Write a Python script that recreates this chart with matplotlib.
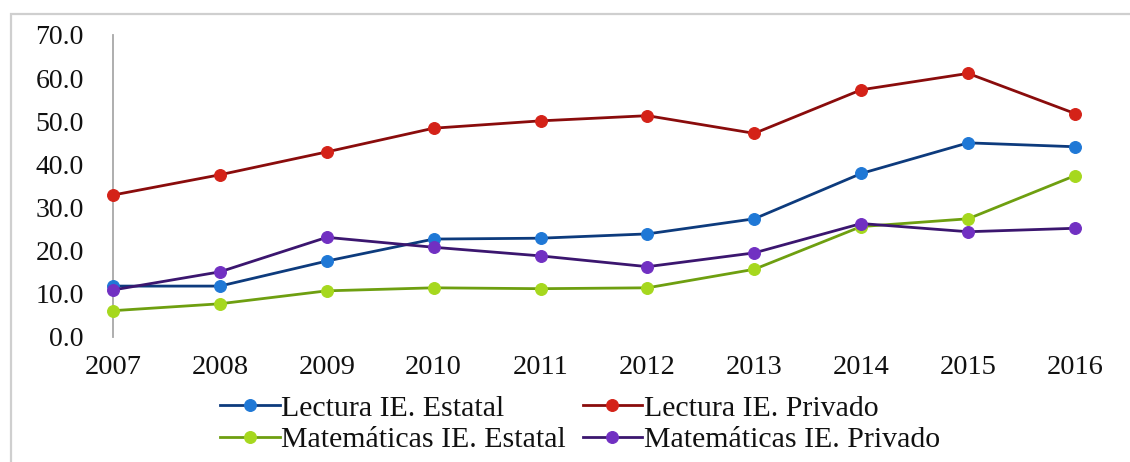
import matplotlib
matplotlib.use("Agg")
import matplotlib.pyplot as plt
from matplotlib.patches import Rectangle

years = [2007, 2008, 2009, 2010, 2011, 2012, 2013, 2014, 2015, 2016]
lectura_estatal = [11.8, 11.8, 17.6, 22.7, 22.9, 23.9, 27.4, 37.9, 45.0, 44.1]
lectura_privado = [32.9, 37.6, 42.9, 48.4, 50.1, 51.3, 47.2, 57.3, 61.1, 51.8]
mate_estatal = [6.1, 7.7, 10.7, 11.4, 11.2, 11.4, 15.7, 25.6, 27.4, 37.4]
mate_privado = [10.9, 15.1, 23.1, 20.8, 18.8, 16.3, 19.5, 26.3, 24.4, 25.2]
labels = ["Lectura IE. Estatal", "Lectura IE. Privado",
          "Matemáticas IE. Estatal", "Matemáticas IE. Privado"]
yticks = [0, 10, 20, 30, 40, 50, 60, 70]

plt.rcParams['font.family'] = ['Liberation Serif', 'DejaVu Serif']

W, H = 1130, 462
fig = plt.figure(figsize=(W / 100, H / 100), dpi=100)
fig.patch.set_facecolor('white')

# outer frame (light gray, clipped at right/bottom)
fig.patches.append(Rectangle((11 / W, -0.2), 1.5, (H - 14) / H + 0.2,
                             transform=fig.transFigure, fill=False,
                             edgecolor='#cfcfcf', lw=1.6))

ax = fig.add_axes([113 / W, (H - 337) / H, (1075 - 113) / W, (337 - 35) / H])
ax.set_xlim(2007, 2016)
ax.set_ylim(0, 70)

series = [
    (lectura_estatal, '#0d3b7d', '#1f78d6', labels[0]),
    (lectura_privado, '#8a0c0c', '#d42218', labels[1]),
    (mate_estatal, '#6e9f10', '#a6d81e', labels[2]),
    (mate_privado, '#3b166f', '#7130c2', labels[3]),
]
handles = {}
for vals, lc, mc, lab in series:
    ln, = ax.plot(years, vals, color=lc, lw=2.0, marker='o', markersize=8.5,
                  markerfacecolor=mc, markeredgecolor=mc, markeredgewidth=0.8,
                  clip_on=False, zorder=3, label=lab)
    handles[lab] = ln

for s in ['top', 'right', 'bottom']:
    ax.spines[s].set_visible(False)
ax.spines['left'].set_color('#a8a8a8')
ax.spines['left'].set_linewidth(1.3)

ax.set_yticks(yticks)
ax.set_yticklabels([f"{v:.1f}" for v in yticks])
ax.set_xticks(years)
ax.set_xticklabels([str(y) for y in years])
ax.tick_params(axis='y', length=0, pad=21, labelsize=20, colors='#111111')
ax.tick_params(axis='x', length=0, pad=13, labelsize=20.5, colors='#111111')

order = [labels[0], labels[2], labels[1], labels[3]]
leg = fig.legend([handles[l] for l in order], order, loc='center',
                 bbox_to_anchor=(580 / W, (H - 424) / H), ncol=2,
                 frameon=False, fontsize=21.5, handlelength=2.0,
                 handletextpad=0.05, columnspacing=0.55, labelspacing=0.15,
                 borderaxespad=0, borderpad=0)
for t in leg.get_texts():
    t.set_color('#111111')

fig.savefig('out.png', dpi=100, facecolor='white')
